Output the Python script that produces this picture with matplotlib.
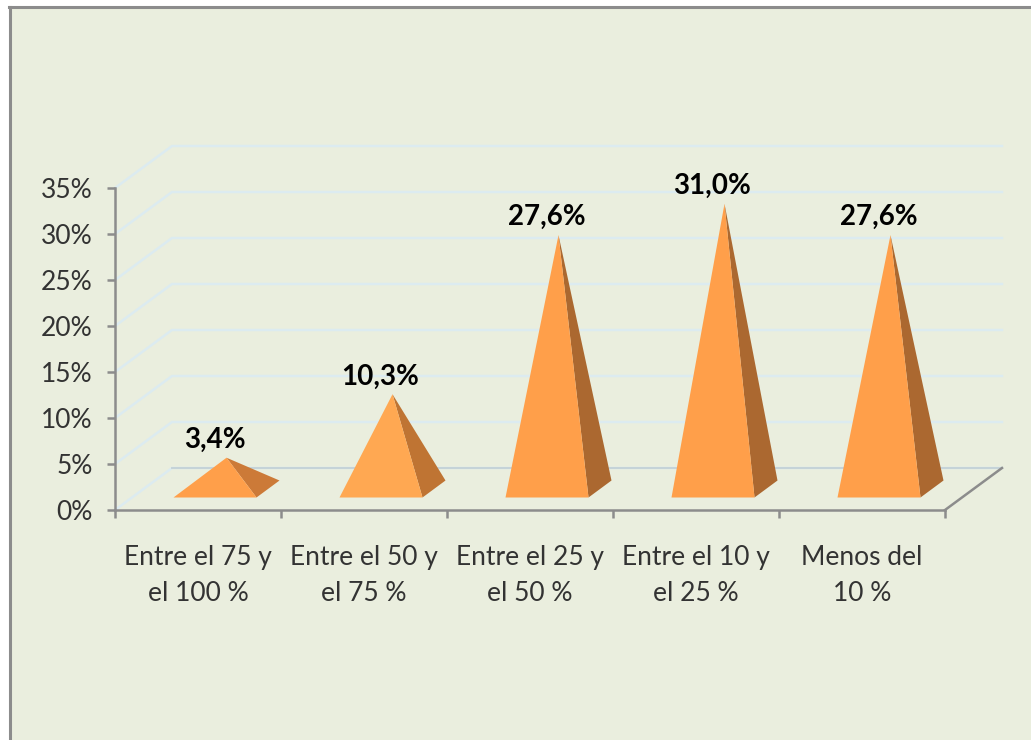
import matplotlib
matplotlib.use('Agg')
import matplotlib.pyplot as plt
from matplotlib.patches import Polygon, Rectangle

categories = ['Entre el 75 y\nel 100 %', 'Entre el 50 y\nel 75 %', 'Entre el 25 y\nel 50 %',
              'Entre el 10 y\nel 25 %', 'Menos del\n10 %']
values = [3.4, 10.3, 27.6, 31.0, 27.6]
value_labels = ['3,4%', '10,3%', '27,6%', '31,0%', '27,6%']
y_ticks = [0, 5, 10, 15, 20, 25, 30, 35]
y_tick_labels = ['0%', '5%', '10%', '15%', '20%', '25%', '30%', '35%']
front_colors = ['#FF9F4A', '#FFA852', '#FF9F4A', '#FF9F4A', '#FF9F4A']
side_colors = ['#CC7A38', '#BF7433', '#AB6830', '#AB6830', '#AB6830']

W, H = 1031, 740
# depth of the fake 3d box, in data units
depth_x = 57 / 166
depth_y = 42 / 9.2
half_w = 0.25
half_dx = depth_x * 11.5 / 57
half_dy = depth_y * 8.5 / 42

plt.rcParams['font.family'] = ['Lato', 'DejaVu Sans']
fig = plt.figure(figsize=(W / 100, H / 100), dpi=100, facecolor='white')

# chart panel with its grey edge on the top and left
fig.patches.append(Rectangle((9 / W, 0), 1, 1 - 6 / H, transform=fig.transFigure,
                             facecolor='#EAEEDE', edgecolor='none', zorder=-5))
fig.add_artist(plt.Line2D([10 / W, 10 / W], [0, 1 - 6.5 / H], color='#8C8C8C', lw=2.2))
fig.add_artist(plt.Line2D([9 / W, 1], [1 - 6.5 / H, 1 - 6.5 / H], color='#8C8C8C', lw=2.2))

ax = fig.add_axes([115 / W, (H - 510) / H, 830 / W, 322 / H])
ax.patch.set_alpha(0)
ax.set_xlim(0, 5)
ax.set_ylim(0, 35)
for s in ['top', 'right']:
    ax.spines[s].set_visible(False)
for s in ['left', 'bottom']:
    ax.spines[s].set_color('#8C8C8C')
    ax.spines[s].set_linewidth(1.8)

# gridlines on the side and back wall
for v in y_ticks:
    ax.plot([0, depth_x, 5 + depth_x], [v, v + depth_y, v + depth_y], color='#DCEBF0',
            lw=1.8, clip_on=False, zorder=1)
ax.plot([depth_x, 5 + depth_x], [depth_y, depth_y], color='#C5D3D8', lw=1.4, clip_on=False, zorder=1)
ax.plot([5, 5 + depth_x], [0, depth_y], color='#8C8C8C', lw=1.8, clip_on=False, zorder=2)

# pyramids
for i, v in enumerate(values):
    cx = i + 0.5 + depth_x / 2
    cy = depth_y / 2
    fl = (cx - half_w - half_dx, cy - half_dy)
    fr = (cx + half_w - half_dx, cy - half_dy)
    br = (cx + half_w + half_dx, cy + half_dy)
    apex = (cx, cy + v)
    ax.add_patch(Polygon([fr, br, apex], facecolor=side_colors[i], edgecolor='none', clip_on=False, zorder=3))
    ax.add_patch(Polygon([fl, fr, apex], facecolor=front_colors[i], edgecolor='none', clip_on=False, zorder=4))
    ax.annotate(value_labels[i], apex, xytext=(-8.6, 3.5), textcoords='offset points', ha='center', va='bottom',
                fontsize=20, fontweight='bold', color='black', zorder=5, annotation_clip=False)

ax.set_yticks(y_ticks)
ax.set_yticklabels(y_tick_labels, fontsize=19, color='#333333')
ax.set_xticks(range(6))
ax.set_xticklabels([])
ax.set_xticks([i + 0.5 for i in range(5)], minor=True)
ax.set_xticklabels(categories, minor=True, fontsize=19, color='#333333', linespacing=1.57)
ax.tick_params(axis='y', length=6, width=1.8, color='#8C8C8C', pad=10)
ax.tick_params(axis='x', which='major', length=6, width=1.8, color='#8C8C8C')
ax.tick_params(axis='x', which='minor', length=0, pad=25)

fig.savefig('out.png', dpi=100, facecolor='white')
